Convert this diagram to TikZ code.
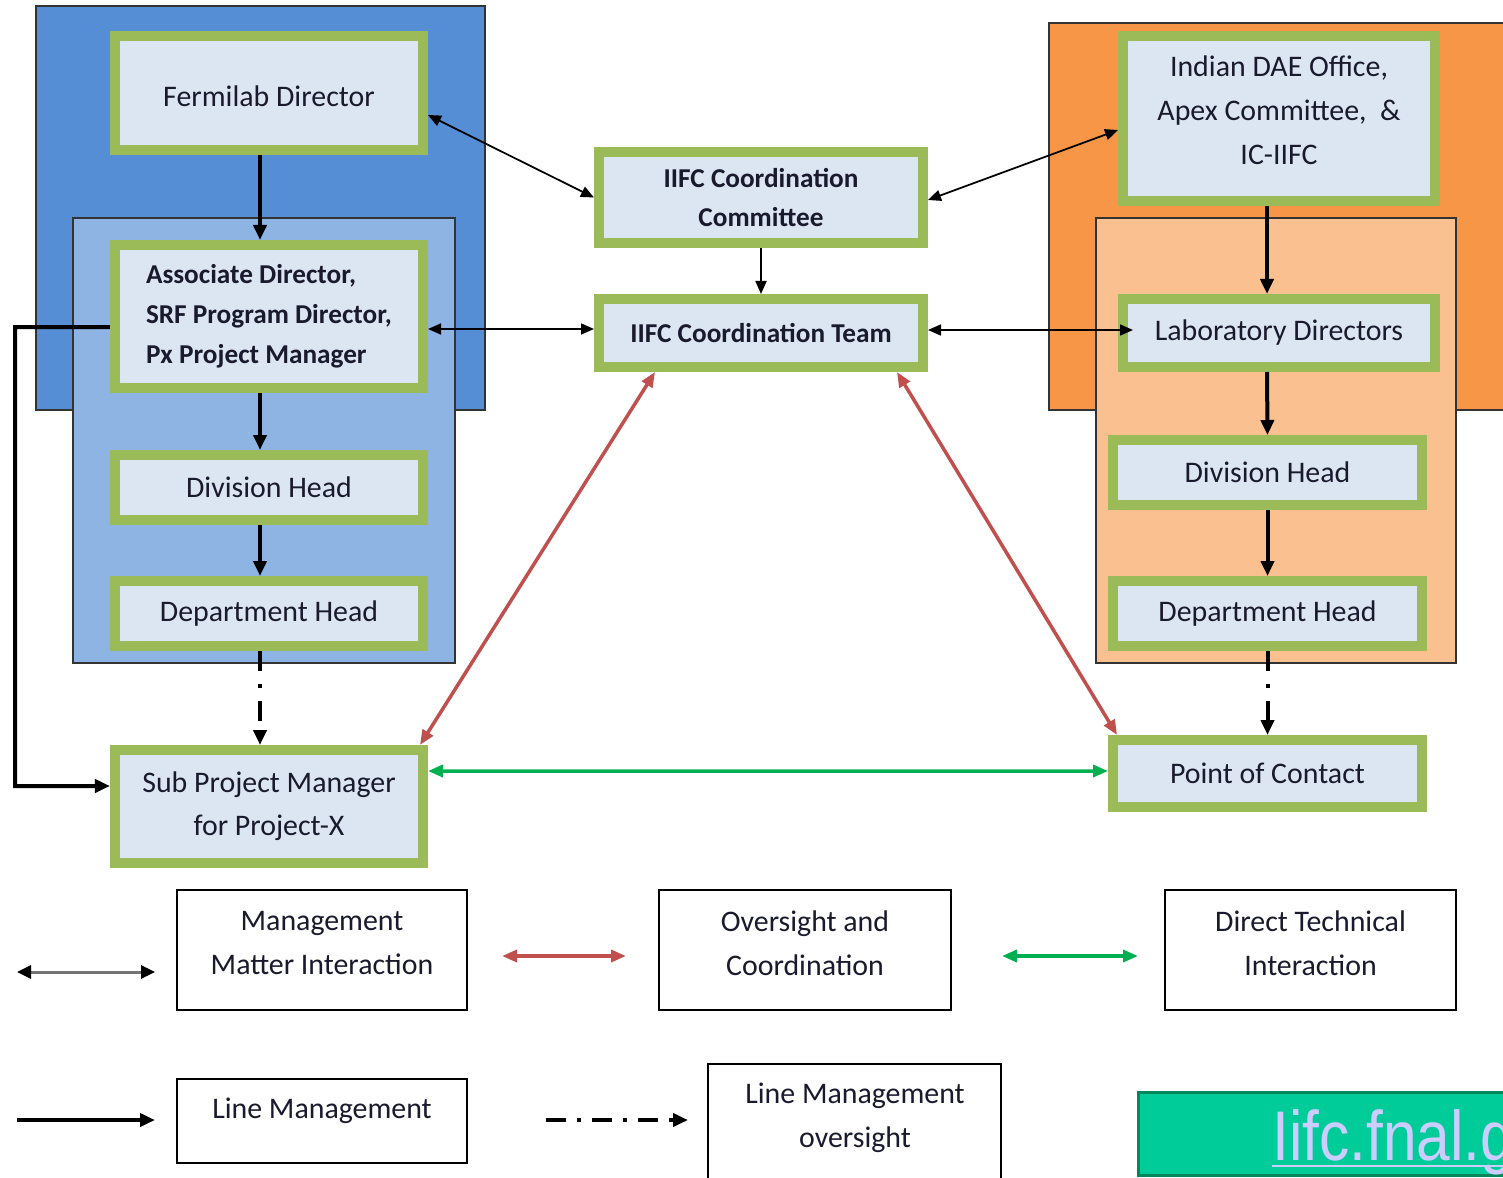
\documentclass[tikz,border=0pt]{standalone}
\usepackage{fontspec}
\setmainfont{Carlito}
\newfontfamily\urlfont{Liberation Sans}
\usetikzlibrary{arrows.meta}
\definecolor{bOut}{HTML}{558ED5}
\definecolor{bIn}{HTML}{8EB4E3}
\definecolor{oOut}{HTML}{F79646}
\definecolor{oIn}{HTML}{FAC090}
\definecolor{gBord}{HTML}{9BBB59}
\definecolor{bxFill}{HTML}{DCE6F2}
\definecolor{redA}{HTML}{C0504D}
\definecolor{greenA}{HTML}{00B050}
\definecolor{txt}{HTML}{1A1A2E}
\definecolor{urlFill}{HTML}{00CC99}
\definecolor{urlBord}{HTML}{00875A}
\definecolor{urlTxt}{HTML}{CCCCFF}
\begin{document}
\begin{tikzpicture}[x=0.2mm,y=-0.2mm,
  gbox/.style={draw=gBord, fill=bxFill, line width=2mm, inner sep=0pt, text=txt,
    font=\fontsize{17}{24.5}\selectfont, align=center},
  gboxb/.style={gbox, font=\fontsize{15.5}{22.7}\selectfont\bfseries},
  region/.style={draw=black!80, line width=0.4mm},
  lbox/.style={draw=black, line width=0.4mm, fill=white, inner sep=0pt},
  ltext/.style={text=txt, font=\fontsize{17}{25}\selectfont, align=center, inner sep=0pt},
  mgmt/.style={<->, >={Triangle[length=2.6mm,width=2.2mm]}, line width=0.35mm, black},
  linem/.style={-{Triangle[length=3mm,width=2.6mm]}, line width=0.8mm, black},
  lineo/.style={-{Triangle[length=3mm,width=2.6mm]}, line width=0.8mm, black,
    dash pattern=on 4mm off 2.6mm on 0.8mm off 2.6mm},
  overs/.style={<->, >={Triangle[length=3mm,width=2.4mm]}, line width=0.7mm, redA},
  tech/.style={<->, >={Triangle[length=3mm,width=2.4mm]}, line width=0.7mm, greenA},
]
\useasboundingbox (0,0) rectangle (1503,1178);
\fill[white] (0,0) rectangle (1503,1178);

% regions
\draw[region, fill=bOut] (36,6) rectangle (485,410);
\draw[region, fill=bIn] (73,218) rectangle (455,663);
\draw[region, fill=oOut] (1049,23) rectangle (1515,410);
\draw[region, fill=oIn] (1096,218) rectangle (1456,663);

% left column
\node[gbox, minimum width=61.6mm, minimum height=22.8mm, text height=5.6mm] (fd) at (269,93) {Fermilab Director};
\node[gboxb, minimum width=61.6mm, minimum height=28.6mm, align=left] (ad) at (269,316.5)
  {Associate Director,\\SRF Program Director,\\Px Project Manager};
\node[gbox, minimum width=61.6mm, minimum height=13mm] (dhl) at (269,487.5) {Division Head};
\node[gbox, minimum width=61.6mm, minimum height=13mm] (dpl) at (269,613.5) {Department Head};
\node[gbox, minimum width=61.6mm, minimum height=22.6mm] (spm) at (269,806.5)
  {Sub Project Manager\\for Project-X};

% centre
\node[gboxb, minimum width=64.8mm, minimum height=18.2mm] (icc) at (761,197.5)
  {IIFC Coordination\\Committee};
\node[gboxb, minimum width=64.8mm, minimum height=13.6mm] (ict) at (761,333)
  {IIFC Coordination Team};

% right column
\node[gbox, minimum width=62.4mm, minimum height=33mm, font=\fontsize{17}{25}\selectfont, text depth=3.4mm] (dae) at (1279,118.5)
  {Indian DAE Office,\\Apex Committee,~~\&\\IC-IIFC};
\node[gbox, minimum width=62.4mm, minimum height=13.6mm] (lab) at (1279,333) {Laboratory Directors};
\node[gbox, minimum width=61.8mm, minimum height=13mm] (dhr) at (1267.5,472.5) {Division Head};
\node[gbox, minimum width=61.8mm, minimum height=13mm] (dpr) at (1267.5,613.5) {Department Head};
\node[gbox, minimum width=61.8mm, minimum height=13.4mm] (poc) at (1267.5,773.5) {Point of Contact};

% line management
\draw[linem] ([xshift=-1.8mm]fd.south) -- ([xshift=-1.8mm]ad.north);
\draw[linem] ([xshift=-1.8mm]ad.south) -- ([xshift=-1.8mm]dhl.north);
\draw[linem] ([xshift=-1.8mm]dhl.south) -- ([xshift=-1.8mm]dpl.north);
\draw[lineo] ([xshift=-1.8mm]dpl.south) -- ([xshift=-1.8mm]spm.north);
\coordinate (elb) at (15,786);
\draw[linem] ([yshift=-2.1mm]ad.west) -| (elb) -- ([yshift=4.1mm]spm.west);
\draw[linem] ([xshift=-2.4mm]dae.south) -- ([xshift=-2.4mm]lab.north);
\draw[linem] ([xshift=-2.4mm]lab.south) -- (dhr.north);
\draw[linem] (dhr.south) -- (dpr.north);
\draw[lineo] (dpr.south) -- (poc.north);
\draw[-{Triangle[length=2.6mm,width=2.2mm]}, line width=0.35mm] (icc.south) -- (ict.north);

% management matter interaction
\draw[mgmt] ([yshift=-4.4mm]fd.east) -- (icc.west);
\draw[mgmt] ([yshift=-2.5mm]ad.east) -- ([yshift=0.8mm]ict.west);
\draw[mgmt] ([yshift=0.6mm]ict.east) -- ([xshift=3mm,yshift=0.6mm]lab.west);
\draw[mgmt] ([yshift=-0.5mm]icc.east) -- ([yshift=-2.3mm]dae.west);

% oversight & technical
\draw[overs] ([xshift=12.2mm]ict.south west) -- ([xshift=-1.6mm]spm.north east);
\draw[overs] ([xshift=-6.2mm]ict.south east) -- ([xshift=1.8mm]poc.north west);
\draw[tech] ([yshift=7.1mm]spm.east) -- ([yshift=0.5mm]poc.west);

% legend
\node[lbox, minimum width=58mm, minimum height=24mm] (lb1) at (322,950) {};
\node[ltext] (lb1t) at (322,943) {Management\\Matter Interaction};
\node[lbox, minimum width=58.4mm, minimum height=24mm] (lb2) at (805,950) {};
\node[ltext] (lb2t) at (805,943) {Oversight and\\Coordination};
\node[lbox, minimum width=58.2mm, minimum height=24mm] (lb3) at (1310.5,950) {};
\node[ltext] (lb3t) at (1310.5,943) {Direct Technical\\Interaction};
\node[lbox, minimum width=58mm, minimum height=16.8mm] (lb4) at (322,1121) {};
\node[ltext] (lb4t) at (322,1111) {Line Management};
\node[lbox, minimum width=58.6mm, minimum height=25.2mm] (lb5) at (854.5,1127) {};
\node[ltext] (lb5t) at (855,1118) {Line Management\\oversight};

\coordinate (a1) at (17,972);  \coordinate (a2) at (155,972);
\coordinate (b1) at (502,956); \coordinate (b2) at (626,956);
\coordinate (c1) at (1002,956); \coordinate (c2) at (1138,956);
\coordinate (d1) at (17,1120); \coordinate (d2) at (155,1120);
\coordinate (e1) at (546,1120); \coordinate (e2) at (688,1120);
\draw[<->, >={Triangle[length=2.8mm,width=2.6mm,color=black]}, line width=0.6mm, draw=black!55] (a1) -- (a2);
\draw[overs] (b1) -- (b2);
\draw[tech] (c1) -- (c2);
\draw[linem] (d1) -- (d2);
\draw[lineo, dash pattern=on 4mm off 2.2mm on 0.8mm off 2.2mm] (e1) -- (e2);

% url box
\begin{scope}
\clip (0,0) rectangle (1503,1178);
\node[draw=urlBord, fill=urlFill, line width=0.6mm, minimum width=75.4mm, minimum height=16.6mm, inner sep=0pt] (url) at (1326.5,1133.5) {};
\node[anchor=base west, text=urlTxt, font=\urlfont\fontsize{40}{40}\selectfont, xscale=0.86, transform shape, inner sep=0pt] (urltext) at (1272,1160) {Iifc.fnal.g};
\draw[urlTxt, line width=0.5mm] ([yshift=-1.2mm]urltext.base west) -- ([yshift=-1.2mm]urltext.base east);
\end{scope}
\end{tikzpicture}
\end{document}
